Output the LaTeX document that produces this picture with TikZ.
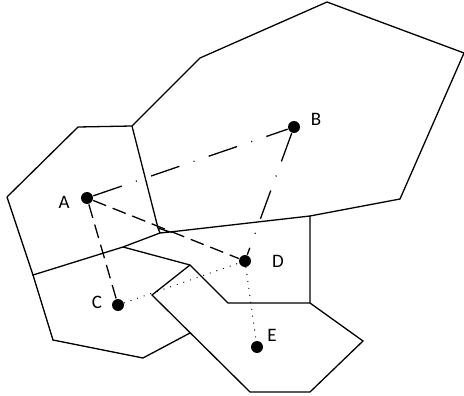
\documentclass[tikz,border=0pt]{standalone}
\usepackage{fontspec}
\setmainfont{Carlito}
\begin{document}
\begin{tikzpicture}[x=1pt,y=-1pt,line width=1.3pt,
  site/.style={circle,fill=black,inner sep=0pt,minimum size=12pt},
  lbl/.style={font=\fontsize{19}{19}\selectfont,inner sep=0pt},
  dashdot/.style={dash pattern=on 30pt off 15pt on 1pt off 15pt},
  longdash/.style={dash pattern=on 14pt off 7pt},
  dotline/.style={line cap=round,dash pattern=on 0pt off 7pt}]
\useasboundingbox (0,0) rectangle (464,396);
%% cells
% cell of A
\draw (7,197) -- (78,127) -- (132,126) -- (158,228);
\draw (7,197) -- (33,275) -- (123,247) -- (160,233);
\draw (158,228) -- (170,232) -- (160,233) -- cycle;
% cell of B
\draw (132,126) -- (200,58) -- (327,2) -- (464,53) -- (400,199) -- (310,216) -- (170,232);
% cell of D
\draw (310,216) -- (310,303) -- (228,303) -- (190,265) -- (123,247);
% cell of E
\draw (190,265) -- (152,295) -- (250,392) -- (310,392) -- (363,341) -- (310,303);
% cell of C
\draw (33,275) -- (53,340) -- (143,358) -- (190,333);
%% sites
\foreach\n/\x/\y in {A/87/198,B/294/127,C/118/305,D/245/261,E/257/347}
  {
  \node[site] (\n) at (\x,\y) {};
  }
\node[lbl] (lA) at (64,202) {A};
\node[lbl] (lB) at (316,119) {B};
\node[lbl] (lC) at (97,302) {C};
\node[lbl] (lD) at (278,261) {D};
\node[lbl] (lE) at (272,335) {E};
%% links
\draw[dashdot] (A) -- (B);
\draw[dashdot] (B) -- (D);
\draw[longdash] (A) -- (D);
\draw[longdash] (A) -- (C);
\draw[dotline] (C) -- (D);
\draw[dotline] (D) -- (E);
\end{tikzpicture}
\end{document}
